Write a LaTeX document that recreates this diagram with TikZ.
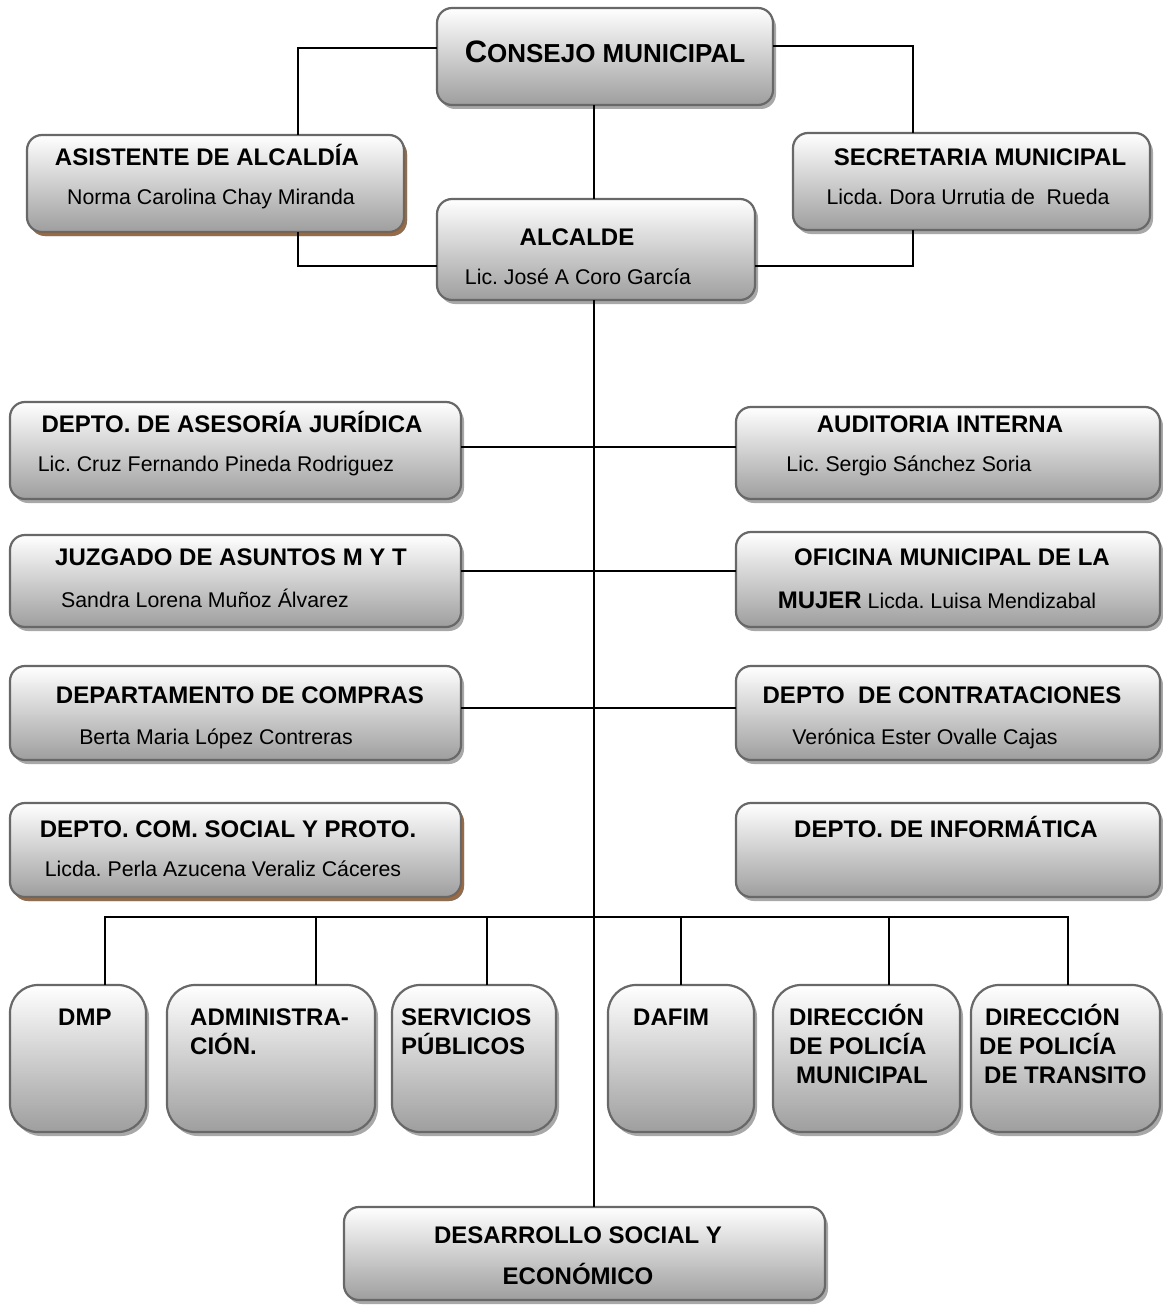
\documentclass[tikz,border=0pt]{standalone}
\usepackage{fontspec}
\setmainfont{Liberation Sans}
\usetikzlibrary{shadows}
\frenchspacing
\definecolor{bordergray}{HTML}{686868}
\definecolor{shadowgray}{HTML}{A8A8A8}
\definecolor{shadowbrown}{HTML}{9A6A42}
\newcommand\bx[7]{\node[box,rounded corners=#6,minimum width=#4-#2,minimum height=#5-#3,anchor=north west,#7] (#1) at (#2,#3) {};}
\begin{document}
\begin{tikzpicture}[x=1pt,y=-1pt,
  box/.style={draw=bordergray,line width=2.2pt,top color=white,bottom color=black!38,inner sep=0pt,outer sep=0pt,
    drop shadow={shadow xshift=3pt,shadow yshift=-4pt,fill=shadowgray,opacity=1}},
  brownshadow/.style={drop shadow={shadow xshift=3pt,shadow yshift=-4pt,fill=shadowbrown,opacity=1}},
  conn/.style={line width=2pt,black},
  ttl/.style={font=\fontsize{24}{29}\selectfont\bfseries\frenchspacing,inner sep=0pt,anchor=base},
  nm/.style={font=\fontsize{21.3}{26}\selectfont\frenchspacing,inner sep=0pt,anchor=base},
  multi/.style={font=\fontsize{24}{29}\selectfont\bfseries,inner sep=0pt,anchor=north west,align=left},
]
\useasboundingbox (0,0) rectangle (1162,1308);
\fill[white] (0,0) rectangle (1162,1308);

% boxes
\bx{cons}{437}{8}{773}{105}{15pt}{}
\bx{asist}{27}{135}{404}{232}{15pt}{brownshadow}
\bx{secr}{793}{133}{1150}{230}{15pt}{}
\bx{alc}{437}{199}{755}{300}{15pt}{}
\bx{dj}{10}{402}{461}{499}{15pt}{}
\bx{ai}{736}{407}{1160}{499}{15pt}{}
\bx{jz}{10}{535}{461}{627}{15pt}{}
\bx{om}{736}{532}{1160}{627}{15pt}{}
\bx{dc}{10}{666}{461}{760}{15pt}{}
\bx{ct}{736}{666}{1160}{760}{15pt}{}
\bx{cs}{10}{803}{461}{897}{15pt}{brownshadow}
\bx{inf}{736}{803}{1160}{897}{15pt}{}
\bx{dmp}{10}{985}{146}{1132}{28pt}{}
\bx{adm}{167}{985}{375}{1132}{28pt}{}
\bx{sp}{392}{985}{556}{1132}{28pt}{}
\bx{daf}{608}{985}{754}{1132}{28pt}{}
\bx{pm}{773}{985}{960}{1132}{28pt}{}
\bx{pt}{971}{985}{1160}{1132}{28pt}{}
\bx{des}{344}{1207}{825}{1300}{15pt}{}

% texts
\node[inner sep=0pt,anchor=base,font=\fontsize{26}{30}\selectfont\bfseries] (cons-t) at (605,63) {{\fontsize{31}{31}\selectfont C}ONSEJO MUNICIPAL};
\node[ttl] (asist-t) at (207,165.6) {ASISTENTE DE ALCALDÍA};
\node[nm] (asist-n) at (211,204.6) {Norma Carolina Chay Miranda};
\node[ttl] (secr-t) at (980,165.6) {SECRETARIA MUNICIPAL};
\node[nm] (secr-n) at (968,204.6) {Licda. Dora Urrutia de\ \ Rueda};
\node[ttl] (alc-t) at (577,245.6) {ALCALDE};
\node[nm] (alc-n) at (578,284.6) {Lic. José A Coro García};
\node[ttl] (dj-t) at (232,432.6) {DEPTO. DE ASESORÍA JURÍDICA};
\node[nm] (dj-n) at (216,471.6) {Lic. Cruz Fernando Pineda Rodriguez};
\node[ttl] (ai-t) at (940,432.6) {AUDITORIA INTERNA};
\node[nm] (ai-n) at (909,471.6) {Lic. Sergio Sánchez Soria};
\node[ttl] (jz-t) at (231,565.6) {JUZGADO DE ASUNTOS M Y T};
\node[nm] (jz-n) at (205,607.6) {Sandra Lorena Muñoz Álvarez};
\node[ttl] (om-t) at (952,565.6) {OFICINA MUNICIPAL DE LA};
\node[nm] (om-n) at (937,608.6) {{\fontsize{24}{29}\selectfont\bfseries MUJER} Licda. Luisa Mendizabal};
\node[ttl] (dc-t) at (240,703.6) {DEPARTAMENTO DE COMPRAS};
\node[nm] (dc-n) at (216,744.6) {Berta Maria López Contreras};
\node[ttl] (ct-t) at (942,703.6) {DEPTO\ \ DE CONTRATACIONES};
\node[nm] (ct-n) at (925,744.6) {Verónica Ester Ovalle Cajas};
\node[ttl] (cs-t) at (228,837.6) {DEPTO. COM. SOCIAL Y PROTO.};
\node[nm] (cs-n) at (223,876.6) {Licda. Perla Azucena Veraliz Cáceres};
\node[ttl] (inf-t) at (946,837.6) {DEPTO. DE INFORMÁTICA};

\node[multi] (dmp-t) at (58,1001.6) {\rule{0pt}{24pt}DMP};
\node[multi] (adm-t) at (190,1001.6) {\rule{0pt}{24pt}ADMINISTRA-\\CIÓN.};
\node[multi] (sp-t) at (401,1001.6) {\rule{0pt}{24pt}SERVICIOS\\PÚBLICOS};
\node[multi] (daf-t) at (633,1001.6) {\rule{0pt}{24pt}DAFIM};
\node[multi] (pm-t) at (789,1001.6) {\rule{0pt}{24pt}DIRECCIÓN\\DE POLICÍA\\\hspace*{7pt}MUNICIPAL};
\node[multi] (pt-t) at (979,1001.6) {\rule{0pt}{24pt}\hspace*{6pt}DIRECCIÓN\\DE POLICÍA\\\hspace*{5pt}DE TRANSITO};
\node[font=\fontsize{24}{41}\selectfont\bfseries,inner sep=0pt,anchor=north,align=center] (des-t) at (578,1219.6) {\rule{0pt}{24pt}DESARROLLO SOCIAL Y\\ECONÓMICO};

% connectors
\draw[conn] (cons.west |- 0,48) -| (asist.north -| 298,0);
\draw[conn] (asist.south -| 298,0) |- (alc.west |- 0,266);
\draw[conn] (cons.east |- 0,46) -| (secr.north -| 913,0);
\draw[conn] (secr.south -| 913,0) |- (alc.east |- 0,266);
\draw[conn] (cons.south -| 594,0) -- (alc.north -| 594,0);
\draw[conn] (alc.south -| 594,0) -- (des.north -| 594,0);
\draw[conn] (dj.east |- 0,447) -- (ai.west |- 0,447);
\draw[conn] (jz.east |- 0,571) -- (om.west |- 0,571);
\draw[conn] (dc.east |- 0,708) -- (ct.west |- 0,708);
\coordinate (bus) at (594,917);
\draw[conn] (dmp.north -| 105,0) |- (bus) -| (pt.north -| 1068,0);
\draw[conn] (adm.north -| 316,0) -- (bus -| 316,0);
\draw[conn] (sp.north -| 487,0) -- (bus -| 487,0);
\draw[conn] (daf.north -| 681,0) -- (bus -| 681,0);
\draw[conn] (pm.north -| 889,0) -- (bus -| 889,0);
\end{tikzpicture}
\end{document}
